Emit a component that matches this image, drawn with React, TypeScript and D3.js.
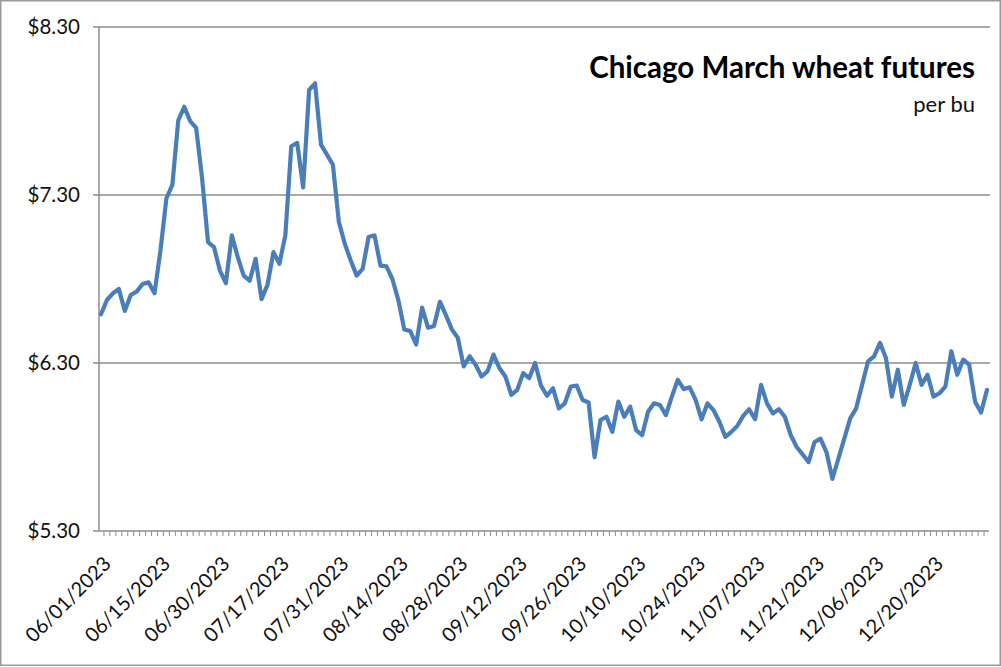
import React from "react";
import * as d3 from "d3";

const tickLabels: string[] = [
  "06/01/2023", "06/15/2023", "06/30/2023", "07/17/2023", "07/31/2023",
  "08/14/2023", "08/28/2023", "09/12/2023", "09/26/2023", "10/10/2023",
  "10/24/2023", "11/07/2023", "11/21/2023", "12/06/2023", "12/20/2023",
];
const labelEvery = 10;

const prices: number[] = [
  6.59, 6.675, 6.715, 6.74, 6.61, 6.705, 6.725, 6.77, 6.78, 6.715,
  6.97, 7.28, 7.36, 7.745, 7.825, 7.74, 7.70, 7.40, 7.02, 6.99,
  6.85, 6.775, 7.06, 6.93, 6.82, 6.79, 6.92, 6.68, 6.765, 6.96,
  6.89, 7.06, 7.59, 7.61, 7.345, 7.925, 7.965, 7.60, 7.54, 7.48,
  7.14, 7.01, 6.91, 6.82, 6.86, 7.05, 7.06, 6.88, 6.875, 6.80,
  6.675, 6.50, 6.49, 6.41, 6.63, 6.51, 6.52, 6.665, 6.585, 6.50,
  6.45, 6.28, 6.34, 6.29, 6.22, 6.25, 6.35, 6.27, 6.22, 6.11,
  6.14, 6.24, 6.21, 6.30, 6.165, 6.105, 6.15, 6.03, 6.06, 6.16,
  6.165, 6.08, 6.065, 5.74, 5.96, 5.98, 5.89, 6.07, 5.98, 6.04,
  5.90, 5.87, 6.01, 6.06, 6.05, 5.99, 6.10, 6.20, 6.145, 6.155,
  6.08, 5.965, 6.06, 6.02, 5.95, 5.86, 5.89, 5.925, 5.985, 6.025,
  5.965, 6.17, 6.06, 6.00, 6.025, 5.98, 5.87, 5.80, 5.755, 5.71,
  5.83, 5.85, 5.77, 5.61, 5.73, 5.85, 5.97, 6.03, 6.17, 6.31,
  6.34, 6.42, 6.33, 6.10, 6.26, 6.05, 6.17, 6.30, 6.17, 6.23,
  6.10, 6.12, 6.16, 6.37, 6.23, 6.32, 6.29, 6.07, 6.005, 6.14,
];

const yTicks: number[] = [5.3, 6.3, 7.3, 8.3];

const W = 1001;
const H = 667;
const FONT = "Lato, 'Open Sans', sans-serif";

export default function App() {
  const n = prices.length;
  const idx = d3.range(n);
  const x = d3.scalePoint<number>().domain(idx).range([101, 987]);
  const y = d3.scaleLinear().domain([5.3, 8.3]).range([531, 27]);
  const step = x.step();

  const line = d3
    .line<number>()
    .x((_, i) => x(i) as number)
    .y((d) => y(d));

  const grid = "#8c8c8c";
  const axisLeft = 99;
  const axisRight = 989;

  const tickXs = d3.range(n + 1).map((i) => (x(0) as number) - step / 2 + i * step);

  return (
    <div style={{ position: "absolute", left: 0, top: 0 }}>
      <svg width={W} height={H} style={{ display: "block", background: "#fff" }}>
        <rect x={0.75} y={0.75} width={W - 1.5} height={H - 2.5} fill="#fff" stroke="#9a9a9a" strokeWidth={1.5} />
        {yTicks.map((t) => (
          <g key={t}>
            <line
              x1={axisLeft - 6}
              x2={t === 5.3 ? axisRight : 990}
              y1={y(t)}
              y2={y(t)}
              stroke={grid}
              strokeWidth={1.5}
            />
            <text
              x={80}
              y={y(t)}
              dy="0.36em"
              textAnchor="end"
              fontFamily={FONT}
              fontSize={20.5}
              fill="#111"
            >
              {"$" + t.toFixed(2)}
            </text>
          </g>
        ))}
        <line x1={axisLeft} x2={axisLeft} y1={y(8.3)} y2={y(5.3)} stroke={grid} strokeWidth={1.5} />
        {tickXs
          .filter((tx) => tx >= axisLeft - 0.5 && tx <= axisRight + 0.5)
          .map((tx, i) => (
            <line key={i} x1={tx} x2={tx} y1={531} y2={536} stroke={grid} strokeWidth={1} />
          ))}
        <path
          d={line(prices) || ""}
          fill="none"
          stroke="#4a7ebb"
          strokeWidth={4.2}
          strokeLinejoin="round"
          strokeLinecap="round"
        />
        {tickLabels.map((lab, k) => {
          const px = x(k * labelEvery) as number;
          return (
            <text
              key={lab}
              transform={`translate(${px + 6},${560}) rotate(-45)`}
              textAnchor="end"
              dy="0.36em"
              fontFamily={FONT}
              fontSize={20}
              fill="#111"
            >
              {lab}
            </text>
          );
        })}
        <text
          x={975}
          y={78}
          textAnchor="end"
          fontFamily={FONT}
          fontWeight="bold"
          fontSize={29.5}
          fill="#000"
        >
          Chicago March wheat futures
        </text>
        <text x={975} y={112} textAnchor="end" fontFamily={FONT} fontSize={22} fill="#111">
          per bu
        </text>
      </svg>
    </div>
  );
}
